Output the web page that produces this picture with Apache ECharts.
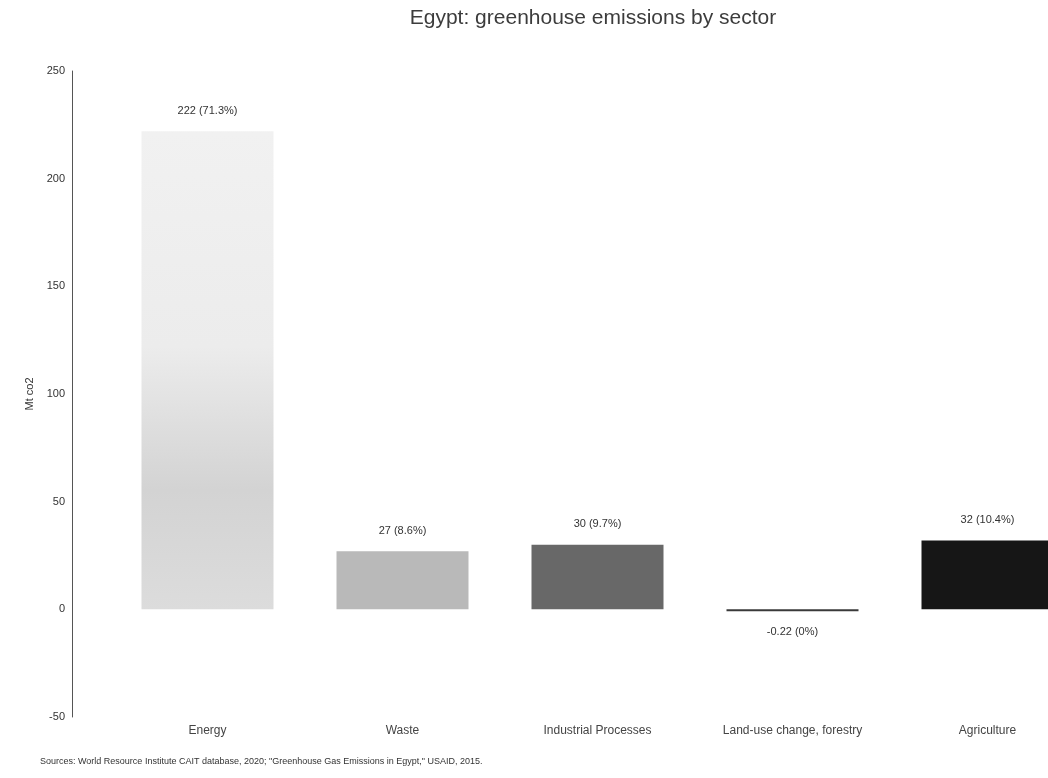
<!DOCTYPE html>
<html>
<head>
<meta charset="utf-8">
<script src="https://cdn.jsdelivr.net/npm/echarts@6/dist/echarts.min.js"></script>
<style>
  html, body { margin: 0; padding: 0; background: #ffffff; }
  #chart { width: 1048px; height: 778px; }
</style>
</head>
<body>
<div id="chart"></div>
<script>
// Sectors and their emissions (Mt CO2) with share of total
const sectors = ['Energy', 'Waste', 'Industrial Processes', 'Land-use change, forestry', 'Agriculture'];
const emissions = [222, 27, 30, -0.22, 32];
const shares = ['71.3%', '8.6%', '9.7%', '0%', '10.4%'];
const yTicks = { min: -50, max: 250, step: 50 };

const titleText = 'Egypt: greenhouse emissions by sector';
const sourceText = 'Sources: World Resource Institute CAIT database, 2020; "Greenhouse Gas Emissions in Egypt," USAID, 2015.';

const fontFamily = '"Liberation Sans", Arial, sans-serif';

const barFills = [
  { type: 'linear', x: 0, y: 0, x2: 0, y2: 1, colorStops: [
    { offset: 0, color: '#f1f1f1' },
    { offset: 0.45, color: '#ececec' },
    { offset: 0.75, color: '#d3d3d3' },
    { offset: 1, color: '#dcdcdc' }
  ] },
  '#b9b9b9',
  '#686868',
  '#3a3a3a',
  '#161616'
];

const chart = echarts.init(document.getElementById('chart'), null, { renderer: 'canvas' });

chart.setOption({
  backgroundColor: '#ffffff',
  animation: false,
  title: {
    text: titleText,
    left: 588,
    top: 3,
    textAlign: 'center',
    textStyle: { fontFamily, fontSize: 21, fontWeight: 'normal', color: '#3c3c3c' }
  },
  graphic: [{
    type: 'text',
    left: 40,
    top: 757,
    style: { text: sourceText, fontFamily, fontSize: 9, fill: '#333333' }
  }],
  // the last column runs past the right edge of the page
  grid: { left: 110, top: 71, width: 975, bottom: 61, outerBoundsMode: 'none' },
  xAxis: {
    type: 'category',
    data: sectors,
    axisLine: { show: false, onZero: false },
    axisTick: { show: false },
    axisLabel: { margin: 8, fontFamily, fontSize: 12, color: '#444444' }
  },
  yAxis: {
    type: 'value',
    min: yTicks.min,
    max: yTicks.max,
    interval: yTicks.step,
    offset: 38,
    name: 'Mt co2',
    nameLocation: 'middle',
    nameRotate: 90,
    nameGap: 35,
    nameTextStyle: { fontFamily, fontSize: 11, color: '#333333' },
    axisLine: { show: true, lineStyle: { color: '#555555', width: 1 } },
    axisTick: { show: false },
    splitLine: { show: false },
    axisLabel: { margin: 7, fontFamily, fontSize: 11, color: '#333333' }
  },
  series: [{
    type: 'bar',
    barWidth: 132,
    barMinHeight: 2,
    data: emissions.map((v, i) => ({
      value: v,
      itemStyle: { color: barFills[i] },
      label: { position: v < 0 ? 'bottom' : 'top' }
    })),
    label: {
      show: true,
      distance: 15,
      fontFamily,
      fontSize: 11,
      color: '#333333',
      formatter: p => p.value + ' (' + shares[p.dataIndex] + ')'
    }
  }]
});
</script>
</body>
</html>
